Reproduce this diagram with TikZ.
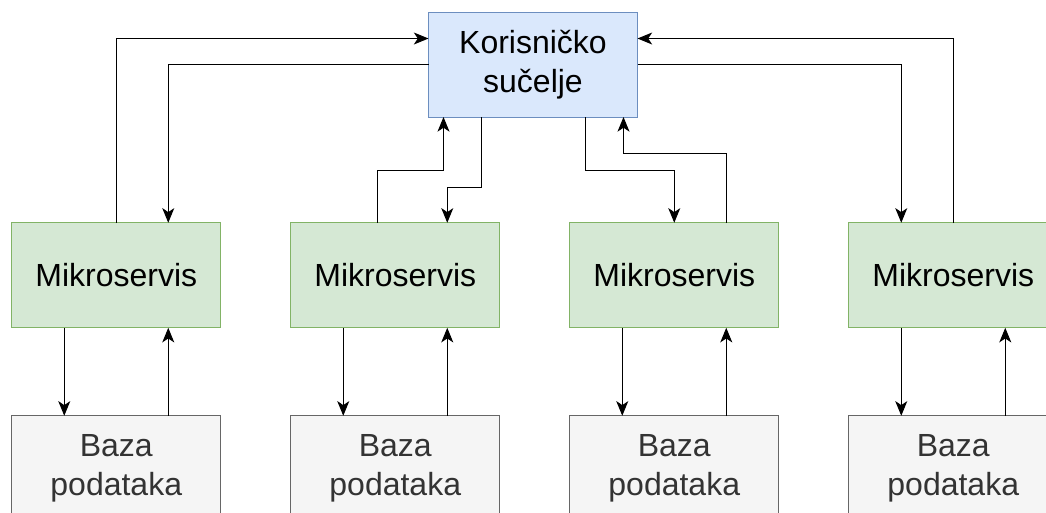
\documentclass[tikz,border=0pt]{standalone}
\usepackage{fontspec}
\setmainfont{Liberation Sans}
\usetikzlibrary{arrows.meta,matrix,positioning}

\definecolor{uifill}{HTML}{DAE8FC}
\definecolor{uidraw}{HTML}{6C8EBF}
\definecolor{msfill}{HTML}{D5E8D4}
\definecolor{msdraw}{HTML}{82B366}
\definecolor{dbfill}{HTML}{F5F5F5}
\definecolor{dbdraw}{HTML}{666666}
\definecolor{dbtext}{HTML}{333333}

\begin{document}
\begin{tikzpicture}[
	x=0.75pt,y=-0.75pt,
	box/.style={rectangle,draw,line width=0.75pt,minimum width=156.75pt,minimum height=78.75pt,inner sep=0pt,outer sep=0pt,align=center,font=\fontsize{24}{29.5}\selectfont},
	ui/.style={box,fill=uifill,draw=uidraw},
	ms/.style={box,fill=msfill,draw=msdraw},
	db/.style={box,fill=dbfill,draw=dbdraw,text=dbtext},
	flow/.style={-{Stealth[length=11pt,width=9pt,inset=3pt]},line width=0.75pt},
	every matrix/.style={ampersand replacement=\&,column sep=51.75pt,row sep=65.25pt,inner sep=0pt}]
\useasboundingbox (0,0) rectangle (1046,512);
\clip (0,0) rectangle (1046,512);

\node[ui] (ui) at (533,64.5) {Korisničko\\sučelje};

\matrix (grid) [anchor=north west] at (11,222) {
	\node[ms] (ms1) {Mikroservis};
	  \& \node[ms] (ms2) {Mikroservis};
	  \& \node[ms] (ms3) {Mikroservis};
	  \& \node[ms] (ms4) {Mikroservis}; \\
	\node[db] (db1) {Baza\\podataka};
	  \& \node[db] (db2) {Baza\\podataka};
	  \& \node[db] (db3) {Baza\\podataka};
	  \& \node[db] (db4) {Baza\\podataka}; \\
};

\draw[flow] (ms1.north) |- ([yshift=19.5pt]ui.west);
\draw[flow] (ui.west) -| ([xshift=39pt]ms1.north);
\draw[flow] ([xshift=-13.5pt]ms2.north) -- ++(0,-52) -| ([xshift=11.25pt]ui.south west);
\draw[flow] ([xshift=-39pt]ui.south) -- ++(0,70) -| ([xshift=39pt]ms2.north);
\draw[flow] ([xshift=39pt]ui.south) -- ++(0,53) -| (ms3.north);
\draw[flow] ([xshift=39pt]ms3.north) -- ++(0,-69) -| ([xshift=-10.5pt]ui.south east);
\draw[flow] (ui.east) -| ([xshift=-39pt]ms4.north);
\draw[flow] (ms4.north) |- ([yshift=19.5pt]ui.east);

\foreach \i in {1,...,4} {
	\draw[flow] ([xshift=-39pt]ms\i.south) -- ([xshift=-39pt]db\i.north);
	\draw[flow] ([xshift=39pt]db\i.north) -- ([xshift=39pt]ms\i.south);
}

\end{tikzpicture}
\end{document}
